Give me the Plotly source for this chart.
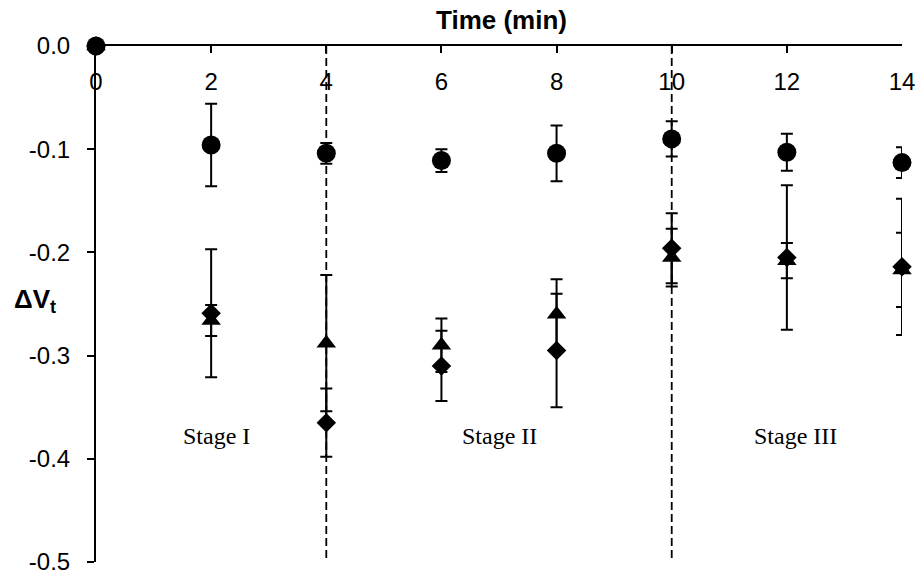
import plotly.graph_objects as go

# Sampling times (min)
time = [0, 2, 4, 6, 8, 10, 12, 14]

# Mean ΔVt per series and their error magnitudes
circle_vals = [0, -0.096, -0.104, -0.111, -0.104, -0.090, -0.103, -0.113]
circle_err = [0, 0.040, 0.010, 0.011, 0.027, 0.017, 0.018, 0.015]

triangle_vals = [0, -0.266, -0.288, -0.290, -0.260, -0.205, -0.208, -0.217]
triangle_err = [0, 0.015, 0.066, 0.026, 0.034, 0.028, 0.017, 0.036]

diamond_vals = [0, -0.259, -0.365, -0.310, -0.295, -0.196, -0.205, -0.214]
diamond_err = [0, 0.062, 0.033, 0.034, 0.055, 0.034, 0.070, 0.066]

# Stage boundaries and labels
stage_bounds = [4, 10]
stage_names = ["Stage I", "Stage II", "Stage III"]
stage_label_x = [2.1, 7.0, 12.15]
stage_label_y = -0.378

x_ticks = [0, 2, 4, 6, 8, 10, 12, 14]
y_ticks = [0, -0.1, -0.2, -0.3, -0.4, -0.5]
y_tick_text = ["0.0", "-0.1", "-0.2", "-0.3", "-0.4", "-0.5"]

FONT = "Liberation Sans, Arial, sans-serif"

# Plot-area geometry in pixels
W, H = 921, 581
ML, MR, MT, MB = 96, 19, 46, 19
PW, PH = W - ML - MR, H - MT - MB


def px_to_paper(px, py):
    return (px - ML) / PW, 1 - (py - MT) / PH


fig = go.Figure()

series = [
    ("circle", circle_vals, circle_err, 19),
    ("diamond", diamond_vals, diamond_err, 15),
    ("triangle-up", triangle_vals, triangle_err, 17),
]
for symbol, vals, errs, size in series:
    fig.add_trace(go.Scatter(
        x=time, y=vals, mode="markers",
        marker=dict(symbol=symbol, size=size, color="black", line=dict(width=0)),
        error_y=dict(type="data", array=errs, visible=True,
                     color="black", thickness=2, width=6),
        cliponaxis=False, showlegend=False,
    ))

for xb in stage_bounds:
    fig.add_shape(type="line", xref="x", yref="y", x0=xb, x1=xb, y0=0, y1=-0.5,
                  line=dict(color="black", width=1.8, dash="8px,4px"), layer="below")

for name, sx in zip(stage_names, stage_label_x):
    fig.add_annotation(x=sx, y=stage_label_y, xref="x", yref="y", text=name,
                       showarrow=False, xanchor="center", yanchor="middle",
                       font=dict(family="Liberation Serif, Times New Roman, serif",
                                 size=24, color="black"))

# Axis titles
tx, ty = px_to_paper(501, 20)
fig.add_annotation(x=tx, y=ty, xref="paper", yref="paper", text="<b>Time (min)</b>",
                   showarrow=False, xanchor="center", yanchor="middle",
                   font=dict(family=FONT, size=26, color="black"))
vx, vy = px_to_paper(35, 300)
fig.add_annotation(x=vx, y=vy, xref="paper", yref="paper", text="<b>ΔV<sub>t</sub></b>",
                   showarrow=False, xanchor="center", yanchor="middle",
                   font=dict(family=FONT, size=26, color="black"))

fig.update_layout(
    width=W, height=H,
    margin=dict(l=ML, r=MR, t=MT, b=MB),
    paper_bgcolor="white", plot_bgcolor="white",
    font=dict(family=FONT, size=24, color="black"),
    xaxis=dict(
        range=[0, 14], side="top", showline=True, linecolor="black", linewidth=2,
        showgrid=False, zeroline=False, automargin=False,
        tickvals=x_ticks, ticks="inside", ticklen=7, tickwidth=1.5, tickcolor="black",
        ticklabelposition="inside", ticklabeloverflow="allow", ticklabelstandoff=22,
        tickfont=dict(family=FONT, size=24, color="black"),
    ),
    yaxis=dict(
        range=[-0.5, 0], showline=True, linecolor="black", linewidth=2,
        showgrid=False, zeroline=False, automargin=False,
        tickvals=y_ticks, ticktext=y_tick_text, ticks="outside", ticklen=7,
        tickwidth=1.5, tickcolor="black", ticklabelstandoff=12,
        tickfont=dict(family=FONT, size=24, color="black"),
    ),
)

fig.write_html("out.html")
